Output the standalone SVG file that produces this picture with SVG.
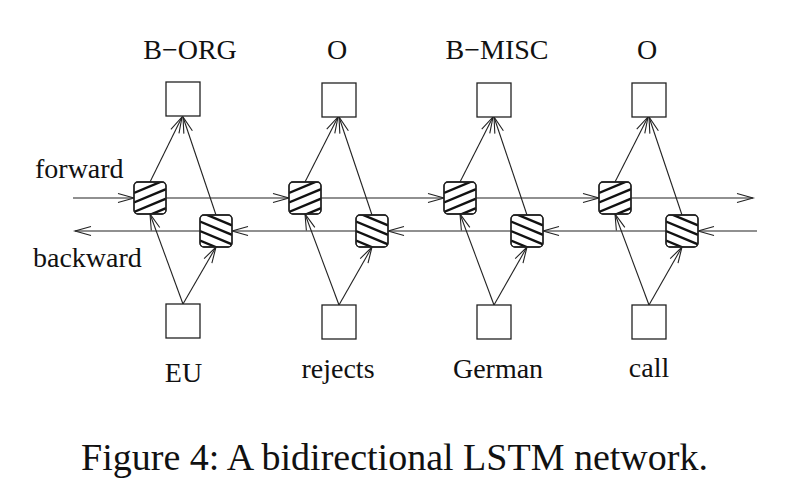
<svg xmlns="http://www.w3.org/2000/svg" xmlns:xlink="http://www.w3.org/1999/xlink" width="787" height="485" viewBox="0 0 787 485">
<style>
  .box { fill: #fff; stroke: #222; stroke-width: 1.3; }
  .cell { fill: #fff; stroke: #222; stroke-width: 1.3; }
  .stripe { stroke: #111; stroke-width: 2.4; fill: none; }
  .conn line { stroke: #222; stroke-width: 1.1; fill: none; marker-end: url(#ah); }
  text { font-family: "Liberation Serif", "Times New Roman", serif; fill: #111; }
  .lbl { font-size: 28px; text-anchor: middle; }
  .side { font-size: 28px; }
  .cap { font-size: 38px; text-anchor: middle; }
</style>
<defs>
  <marker id="ah" markerUnits="userSpaceOnUse" markerWidth="20" markerHeight="12" viewBox="-17 -6 18 12" refX="0" refY="0" orient="auto" overflow="visible">
    <path d="M-16,-4.5 L0,0 L-16,4.5" fill="none" stroke="#222" stroke-width="1.1"/>
  </marker>
  <clipPath id="cc"><rect x="0" y="0" width="32" height="32" rx="4"/></clipPath>
  <g id="fcell">
    <rect class="cell" x="0" y="0" width="32" height="32" rx="4"/>
    <g clip-path="url(#cc)">
      <line class="stripe" x1="0" y1="11" x2="32" y2="-2.4"/>
      <line class="stripe" x1="0" y1="20.5" x2="32" y2="7.1"/>
      <line class="stripe" x1="0" y1="30" x2="32" y2="16.6"/>
      <line class="stripe" x1="0" y1="39.5" x2="32" y2="26.1"/>
    </g>
    <rect x="0" y="0" width="32" height="32" rx="4" fill="none" stroke="#222" stroke-width="1.3"/>
  </g>
  <g id="bcell">
    <rect class="cell" x="0" y="0" width="32" height="32" rx="4"/>
    <g clip-path="url(#cc)">
      <line class="stripe" x1="0" y1="-3" x2="32" y2="10.4"/>
      <line class="stripe" x1="0" y1="6.5" x2="32" y2="19.9"/>
      <line class="stripe" x1="0" y1="16" x2="32" y2="29.4"/>
      <line class="stripe" x1="0" y1="25.5" x2="32" y2="38.9"/>
    </g>
    <rect x="0" y="0" width="32" height="32" rx="4" fill="none" stroke="#222" stroke-width="1.3"/>
  </g>
</defs>
<rect x="0" y="0" width="787" height="485" fill="#fff"/>

<g id="connectors" class="conn">
  <line x1="73" y1="198" x2="134" y2="198"/>
  <line x1="166" y1="198" x2="289" y2="198"/>
  <line x1="321" y1="198" x2="444" y2="198"/>
  <line x1="476" y1="198" x2="599" y2="198"/>
  <line x1="631" y1="198" x2="753" y2="198"/>
  <line x1="757" y1="231" x2="698" y2="231"/>
  <line x1="666" y1="231" x2="543" y2="231"/>
  <line x1="511" y1="231" x2="388" y2="231"/>
  <line x1="356" y1="231" x2="232" y2="231"/>
  <line x1="200" y1="231" x2="75" y2="231"/>
  <line x1="183" y1="304" x2="150" y2="214"/>
  <line x1="183" y1="304" x2="216" y2="247"/>
  <line x1="150" y1="182" x2="182" y2="117"/>
  <line x1="216" y1="215" x2="183" y2="117"/>
  <line x1="339" y1="305" x2="305" y2="214"/>
  <line x1="339" y1="305" x2="372" y2="247"/>
  <line x1="305" y1="182" x2="338" y2="117"/>
  <line x1="372" y1="215" x2="339" y2="117"/>
  <line x1="494" y1="305" x2="460" y2="214"/>
  <line x1="494" y1="305" x2="527" y2="247"/>
  <line x1="460" y1="182" x2="493" y2="117"/>
  <line x1="527" y1="215" x2="494" y2="117"/>
  <line x1="649" y1="305" x2="615" y2="214"/>
  <line x1="649" y1="305" x2="682" y2="247"/>
  <line x1="615" y1="182" x2="648" y2="117"/>
  <line x1="682" y1="215" x2="649" y2="117"/>
</g>

<g id="out1"><rect class="box" x="166" y="82" width="34" height="34"/><text class="lbl" x="190" y="59">B−ORG</text></g>
<g id="out2"><rect class="box" x="322" y="83" width="34" height="34"/><text class="lbl" x="337" y="59">O</text></g>
<g id="out3"><rect class="box" x="477" y="83" width="34" height="34"/><text class="lbl" x="497" y="59">B−MISC</text></g>
<g id="out4"><rect class="box" x="632" y="83" width="34" height="34"/><text class="lbl" x="647" y="59">O</text></g>

<g id="fwd1" transform="translate(134,182)"><use xlink:href="#fcell"/></g>
<g id="fwd2" transform="translate(289,182)"><use xlink:href="#fcell"/></g>
<g id="fwd3" transform="translate(444,182)"><use xlink:href="#fcell"/></g>
<g id="fwd4" transform="translate(599,182)"><use xlink:href="#fcell"/></g>

<g id="bwd1" transform="translate(200,215)"><use xlink:href="#bcell"/></g>
<g id="bwd2" transform="translate(356,215)"><use xlink:href="#bcell"/></g>
<g id="bwd3" transform="translate(511,215)"><use xlink:href="#bcell"/></g>
<g id="bwd4" transform="translate(666,215)"><use xlink:href="#bcell"/></g>

<g id="in1"><rect class="box" x="166" y="304" width="34" height="34"/><text class="lbl" x="183.5" y="382">EU</text></g>
<g id="in2"><rect class="box" x="322" y="305" width="34" height="34"/><text class="lbl" x="338" y="378">rejects</text></g>
<g id="in3"><rect class="box" x="477" y="305" width="34" height="34"/><text class="lbl" x="498" y="378">German</text></g>
<g id="in4"><rect class="box" x="632" y="305" width="34" height="34"/><text class="lbl" x="649" y="377">call</text></g>

<g id="labels">
  <text class="side" x="35" y="178">forward</text>
  <text class="side" x="33" y="267">backward</text>
</g>

<text class="cap" x="394.5" y="470">Figure 4: A bidirectional LSTM network.</text>
</svg>
